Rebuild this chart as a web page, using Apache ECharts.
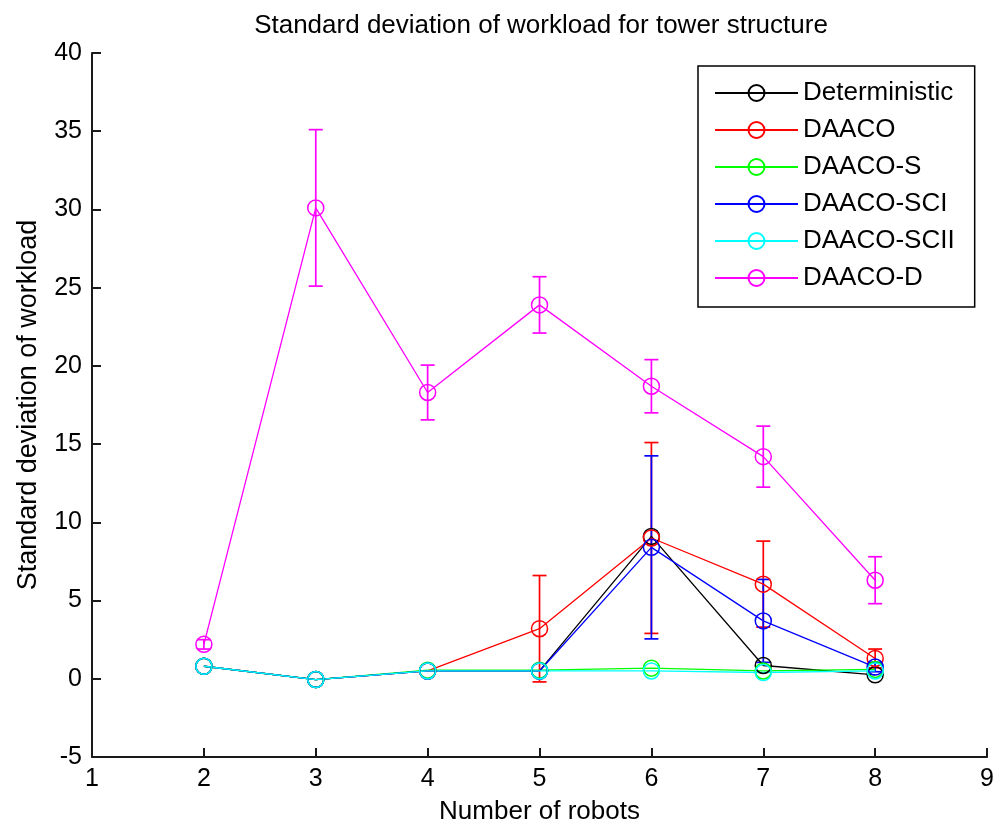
<!DOCTYPE html>
<html>
<head>
<meta charset="utf-8">
<script src="https://cdn.jsdelivr.net/npm/echarts@6/dist/echarts.min.js"></script>
<style>
  html, body { margin: 0; padding: 0; background: #fff; }
  #chart { width: 997px; height: 831px; }
</style>
</head>
<body>
<div id="chart"></div>
<script>
// number of robots
var robots = [2, 3, 4, 5, 6, 7, 8];

// mean standard deviation per method
var deterministic = [0.8, -0.05, 0.5, 0.5, 9.1, 0.85, 0.25];
var daaco = [0.8, -0.05, 0.5, 3.2, 9.0, 6.05, 1.3];
var daacoS = [0.8, -0.05, 0.55, 0.55, 0.68, 0.5, 0.6];
var daacoSCI = [0.8, -0.05, 0.5, 0.5, 8.4, 3.7, 0.75];
var daacoSCII = [0.8, -0.05, 0.5, 0.5, 0.5, 0.4, 0.5];
var daacoD = [2.2, 30.1, 18.3, 23.9, 18.7, 14.2, 6.3];

// error bar half lengths
var deterministicErr = [0, 0, 0, 0, 0, 0, 0];
var daacoErr = [0, 0, 0, 3.4, 6.1, 2.75, 0.6];
var daacoSErr = [0, 0, 0, 0, 0, 0, 0];
var daacoSCIErr = [0, 0, 0, 0, 5.85, 2.65, 0.3];
var daacoSCIIErr = [0, 0, 0, 0, 0, 0, 0];
var daacoDErr = [0.3, 5.0, 1.75, 1.8, 1.7, 1.95, 1.5];

var xTicks = [1, 2, 3, 4, 5, 6, 7, 8, 9];
var yTicks = [-5, 0, 5, 10, 15, 20, 25, 30, 35, 40];

var methods = [
  { name: 'Deterministic', color: '#000000', y: deterministic, err: deterministicErr },
  { name: 'DAACO', color: '#ff0000', y: daaco, err: daacoErr },
  { name: 'DAACO-S', color: '#00ff00', y: daacoS, err: daacoSErr },
  { name: 'DAACO-SCI', color: '#0000ff', y: daacoSCI, err: daacoSCIErr },
  { name: 'DAACO-SCII', color: '#00ffff', y: daacoSCII, err: daacoSCIIErr },
  { name: 'DAACO-D', color: '#ff00ff', y: daacoD, err: daacoDErr }
];

var font = 'Liberation Sans, Arial, sans-serif';

function errorBarItem(params, api) {
  var x = api.value(0);
  var lo = api.coord([x, api.value(1)]);
  var hi = api.coord([x, api.value(2)]);
  var half = 7;
  var style = { stroke: api.visual('color'), lineWidth: 1.7 };
  return {
    type: 'group',
    children: [
      { type: 'line', shape: { x1: lo[0], y1: lo[1], x2: hi[0], y2: hi[1] }, style: style },
      { type: 'line', shape: { x1: hi[0] - half, y1: hi[1], x2: hi[0] + half, y2: hi[1] }, style: style },
      { type: 'line', shape: { x1: lo[0] - half, y1: lo[1], x2: lo[0] + half, y2: lo[1] }, style: style }
    ]
  };
}

var series = [];
methods.forEach(function (m) {
  var pts = robots.map(function (r, i) { return [r, m.y[i]]; });
  series.push({
    name: m.name,
    type: 'line',
    data: pts,
    symbol: 'circle',
    symbolSize: 16,
    lineStyle: { color: m.color, width: 1.3 },
    itemStyle: { color: 'transparent', borderColor: m.color, borderWidth: 1.5 },
    emphasis: { disabled: true },
    animation: false
  });
  var bars = [];
  robots.forEach(function (r, i) {
    if (m.err[i] > 0) bars.push([r, m.y[i] - m.err[i], m.y[i] + m.err[i]]);
  });
  if (bars.length) {
    series.push({
      name: m.name + ' err',
      type: 'custom',
      renderItem: errorBarItem,
      data: bars,
      itemStyle: { color: m.color },
      encode: { x: 0, y: [1, 2] },
      animation: false
    });
  }
});

var myChart = echarts.init(document.getElementById('chart'));
myChart.setOption({
  backgroundColor: '#ffffff',
  animation: false,
  title: {
    text: 'Standard deviation of workload for tower structure',
    left: 536,
    textAlign: 'center',
    top: 8,
    textStyle: { fontFamily: font, fontSize: 26, fontWeight: 'normal', color: '#000' }
  },
  legend: {
    orient: 'vertical',
    left: 698,
    top: 66,
    data: methods.map(function (m) { return m.name; }),
    itemWidth: 83,
    itemHeight: 20,
    itemGap: 11,
    padding: [14, 20, 16, 16],
    borderColor: '#000',
    borderWidth: 1.5,
    backgroundColor: '#fff',
    textStyle: { fontFamily: font, fontSize: 26, color: '#000' }
  },
  grid: { left: 92, right: 9, top: 53, bottom: 74, containLabel: false },
  xAxis: {
    type: 'value',
    min: 1,
    max: 9,
    interval: 1,
    name: 'Number of robots',
    nameLocation: 'middle',
    nameGap: 42,
    nameTextStyle: { fontFamily: font, fontSize: 26, color: '#000' },
    axisLine: { onZero: false, lineStyle: { color: '#1a1a1a', width: 2 } },
    axisTick: { inside: true, length: 9, lineStyle: { color: '#1a1a1a', width: 2 } },
    axisLabel: {
      fontFamily: font, fontSize: 25, color: '#000', margin: 10,
      formatter: function (v) { return xTicks.indexOf(v) >= 0 ? String(v) : ''; }
    },
    splitLine: { show: false }
  },
  yAxis: {
    type: 'value',
    min: -5,
    max: 40,
    interval: 5,
    name: 'Standard deviation of workload',
    nameLocation: 'middle',
    nameGap: 50,
    nameTextStyle: { fontFamily: font, fontSize: 27, color: '#000' },
    axisLine: { show: true, onZero: false, lineStyle: { color: '#1a1a1a', width: 2 } },
    axisTick: { show: true, inside: true, length: 9, lineStyle: { color: '#1a1a1a', width: 2 } },
    axisLabel: {
      fontFamily: font, fontSize: 25, color: '#000', margin: 10,
      formatter: function (v) { return yTicks.indexOf(v) >= 0 ? String(v) : ''; }
    },
    splitLine: { show: false }
  },
  series: series
});
</script>
</body>
</html>
